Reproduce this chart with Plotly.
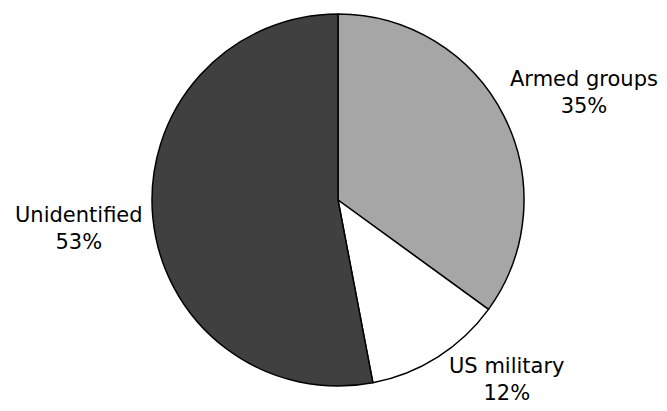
import math
import plotly.graph_objects as go

labels = ["Armed groups", "US military", "Unidentified"]
values = [35, 12, 53]
colors = ["#a6a6a6", "#ffffff", "#404040"]

off = 8                          # page body margin
W, H = 667 - 2 * off, 411 - 2 * off  # figure size that fits the window
cx, cy, r = 338 - off, 200 - off, 186   # pie centre and radius in pixels
label_r = 194                    # distance of label anchor from centre

fig = go.Figure(go.Pie(
    labels=labels,
    values=values,
    sort=False,
    direction="clockwise",
    rotation=0,
    marker=dict(colors=colors, line=dict(color="#000000", width=1.5)),
    textinfo="none",
    showlegend=False,
    hoverinfo="label+percent",
    domain=dict(x=[(cx - r) / W, (cx + r) / W], y=[(H - cy - r) / H, (H - cy + r) / H]),
))

total = sum(values)
cum = 0
annotations = []
for lab, v in zip(labels, values):
    mid = (cum + v / 2) / total * 2 * math.pi
    cum += v
    dx, dy = math.sin(mid), -math.cos(mid)  # dy in screen coords (down positive)
    px = cx + dx * label_r
    py = cy + dy * label_r
    xanchor = "left" if dx > 0.15 else ("right" if dx < -0.15 else "center")
    if abs(dy) < 0.3:
        yanchor = "middle"
        py += 10
    elif dy < 0:
        yanchor = "bottom"
        px -= 3
        py += 8
    else:
        yanchor = "top"
        px += 5
        py -= 12
    annotations.append(dict(
        x=px / W, y=1 - py / H, xref="paper", yref="paper",
        text=f"{lab}<br>{v}%", showarrow=False,
        xanchor=xanchor, yanchor=yanchor, align="center",
        font=dict(family="DejaVu Sans", size=21, color="#000000"),
    ))

fig.update_layout(
    width=W, height=H,
    margin=dict(l=0, r=0, t=0, b=0),
    paper_bgcolor="white",
    plot_bgcolor="white",
    annotations=annotations,
)

fig.write_html("out.html")
